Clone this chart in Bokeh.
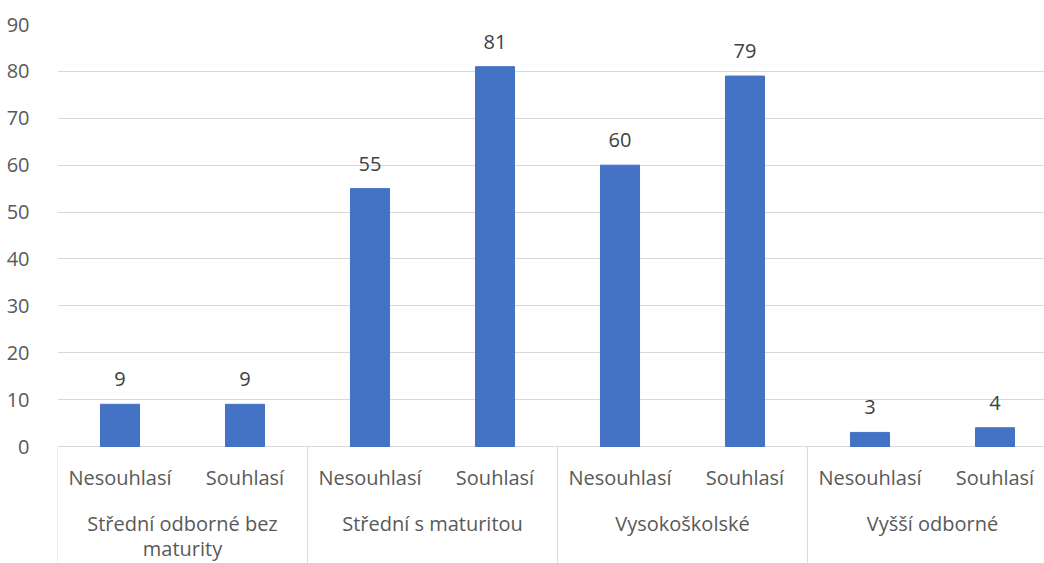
from bokeh.plotting import figure
from bokeh.models import Range1d, FixedTicker
from bokeh.embed import file_html
from bokeh.resources import INLINE
from bokeh.core.properties import value

# data
groups = ["Střední odborné bez\nmaturity", "Střední s maturitou", "Vysokoškolské", "Vyšší odborné"]
answers = ["Nesouhlasí", "Souhlasí"]
counts = [9, 9, 55, 81, 60, 79, 3, 4]
y_ticks = [0, 10, 20, 30, 40, 50, 60, 70, 80, 90]

FONT = "Open Sans"
FS = "20px"
LABEL_COLOR = "#595959"
GRID = "#d9d9d9"
BAR = "#4472C4"

# positions: each answer occupies 2 units, each group 4 units
xs = [2 * i + 1 for i in range(len(counts))]
sub_labels = [answers[i % 2] for i in range(len(counts))]
group_centers = [4 * g + 2 for g in range(len(groups))]
separators = [4 * g for g in range(len(groups))]

# layout (pixels)
W, H = 1044, 563
frame_left = 57
top_border = 24
zero_px = 446          # y position of value 0 inside the figure
slot_px = 62.5
frame_w = W - frame_left
y_max = max(y_ticks)
px_per_unit = (zero_px - top_border) / y_max
y_min = -(H - zero_px) / px_per_unit

p = figure(width=W, height=H, output_backend="svg", toolbar_location=None,
           x_range=Range1d(0, frame_w / slot_px), y_range=Range1d(y_min, y_max),
           min_border_left=frame_left, min_border_right=0, min_border_top=top_border,
           min_border_bottom=0, x_axis_location=None)
p.outline_line_color = None
p.background_fill_color = "white"
p.border_fill_color = "white"

p.xgrid.visible = False
p.ygrid.grid_line_color = GRID
p.ygrid.grid_line_width = 1
p.ygrid.ticker = FixedTicker(ticks=y_ticks)

# group separators below the zero line
p.segment(x0=separators, y0=[0] * len(separators), x1=separators,
          y1=[y_min] * len(separators), line_color=GRID, line_width=1)

p.vbar(x=xs, top=counts, width=0.625, color=BAR)
p.text(x=xs, y=counts, text=[str(c) for c in counts], text_align="center",
       text_baseline="bottom", y_offset=-18, text_font=value(FONT),
       text_font_size=FS, text_color="#404040")

# category labels
p.text(x=xs, y=[0] * len(xs), text=sub_labels, text_align="center",
       text_baseline="middle", y_offset=31, text_font=value(FONT),
       text_font_size=FS, text_color=LABEL_COLOR)
line1 = [g.split("\n")[0] for g in groups]
line2_x = [gx for gx, g in zip(group_centers, groups) if "\n" in g]
line2 = [g.split("\n")[1] for g in groups if "\n" in g]
p.text(x=group_centers, y=[0] * len(groups), text=line1, text_align="center",
       text_baseline="middle", y_offset=77, text_font=value(FONT),
       text_font_size=FS, text_color=LABEL_COLOR)
p.text(x=line2_x, y=[0] * len(line2_x), text=line2, text_align="center",
       text_baseline="middle", y_offset=102, text_font=value(FONT),
       text_font_size=FS, text_color=LABEL_COLOR)

ya = p.yaxis[0]
ya.ticker = FixedTicker(ticks=y_ticks)
ya.axis_line_color = None
ya.major_tick_line_color = None
ya.minor_tick_line_color = None
ya.major_label_standoff = 22
ya.major_label_text_font = FONT
ya.major_label_text_font_size = FS
ya.major_label_text_color = LABEL_COLOR

open("out.html", "w").write(file_html(p, INLINE))
